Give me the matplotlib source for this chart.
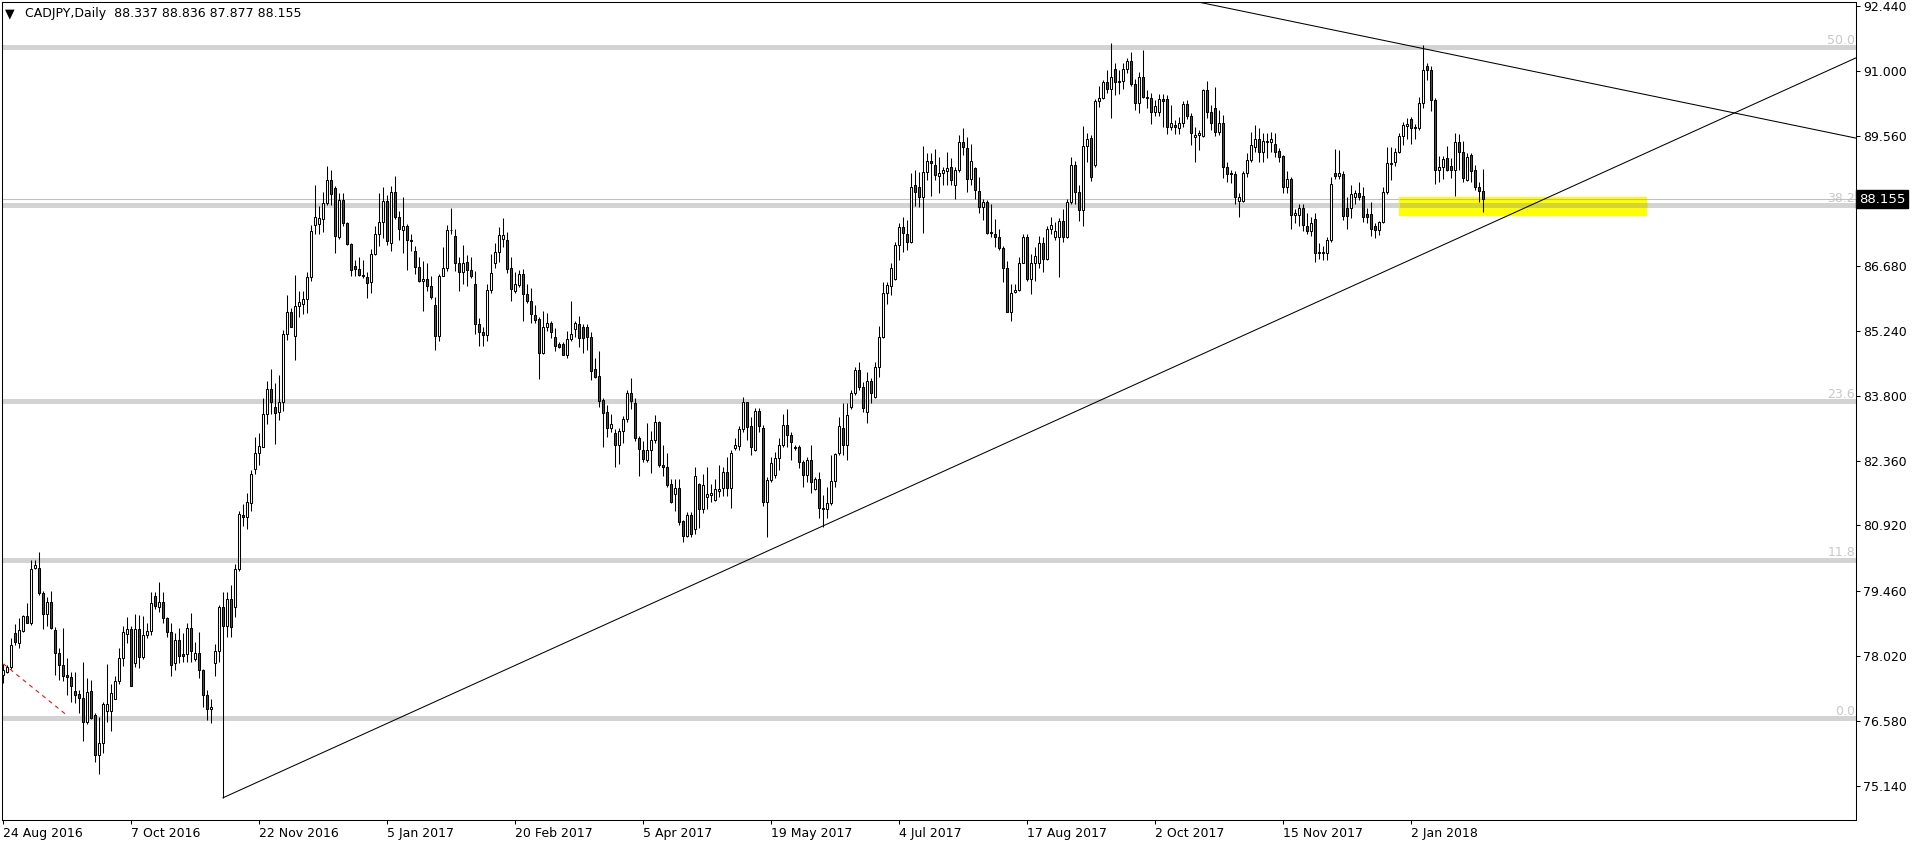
import matplotlib
matplotlib.use("Agg")
import matplotlib.pyplot as plt
from matplotlib.patches import Rectangle
from matplotlib.transforms import blended_transform_factory

# CADJPY daily candles, bar 0 = 24 Aug 2016 (weekdays only)
opens = [
    77.60, 77.68, 77.77, 78.53, 78.31, 78.57, 78.91, 78.76, 79.97, 79.97,
    79.42, 78.95, 79.22, 78.60, 78.08, 77.83, 77.60, 77.55, 77.24, 77.18,
    77.09, 76.55, 77.24, 76.71, 75.82, 76.09, 76.81, 76.81, 77.07, 77.46,
    77.97, 78.51, 78.62, 77.86, 78.62, 78.01, 78.48, 78.57, 79.36, 79.10,
    79.22, 78.86, 78.55, 77.88, 78.39, 78.06, 78.06, 78.64, 77.95, 78.08,
    77.71, 77.17, 76.84, 77.88, 78.14, 79.10, 78.70, 79.28, 79.10, 79.95,
    81.15, 81.10, 81.41, 82.18, 82.53, 82.67, 83.39, 83.95, 83.54, 83.44,
    83.65, 85.17, 85.66, 85.12, 85.78, 85.84, 85.95, 86.42, 87.59, 87.60,
    87.71, 88.08, 88.59, 88.41, 87.31, 88.13, 87.63, 87.17, 86.67, 86.60,
    86.48, 86.43, 86.31, 86.93, 87.38, 87.66, 88.11, 87.19, 88.31, 87.75,
    87.47, 87.57, 87.26, 87.01, 86.65, 86.34, 86.39, 86.24, 85.81, 85.12,
    86.45, 86.63, 87.47, 87.35, 86.73, 86.54, 86.77, 86.58, 86.28, 85.39,
    85.21, 85.14, 86.14, 86.75, 86.99, 87.27, 87.25, 86.62, 86.13, 86.25,
    86.49, 86.05, 85.90, 85.59, 85.49, 84.75, 85.31, 85.42, 85.09, 84.94,
    84.94, 84.71, 85.05, 85.27, 85.39, 85.31, 85.31, 85.11, 84.40, 84.23,
    83.70, 83.43, 83.09, 82.96, 82.70, 83.02, 83.27, 83.85, 83.63, 82.85,
    82.59, 82.37, 82.59, 82.81, 83.21, 82.26, 82.22, 81.83, 81.62, 81.74,
    81.02, 80.69, 81.15, 80.85, 81.84, 81.28, 81.56, 81.59, 81.48, 81.68,
    81.76, 82.11, 81.76, 82.63, 82.68, 83.05, 83.65, 83.13, 82.59, 83.46,
    83.09, 81.45, 81.93, 82.04, 82.41, 82.70, 83.15, 82.93, 82.67, 82.65,
    82.33, 82.04, 82.37, 81.73, 81.95, 81.28, 81.28, 81.41, 81.91, 82.52,
    83.09, 82.70, 83.55, 83.86, 84.37, 83.98, 83.44, 84.13, 83.76, 84.43,
    85.11, 86.08, 86.23, 86.38, 87.14, 87.53, 87.38, 87.21, 88.46, 88.43,
    88.21, 88.75, 89.01, 88.91, 88.68, 88.73, 88.79, 88.86, 88.47, 88.80,
    89.43, 89.28, 88.60, 88.84, 88.34, 87.99, 88.09, 87.42, 87.38, 87.31,
    87.07, 86.64, 85.66, 86.09, 86.14, 86.73, 87.31, 86.38, 86.75, 86.75,
    87.18, 86.84, 87.49, 87.32, 87.32, 87.67, 87.32, 88.10, 88.91, 88.32,
    87.92, 89.34, 89.51, 88.91, 90.33, 90.39, 90.75, 90.59, 91.04, 90.78,
    90.78, 91.04, 91.22, 90.72, 90.30, 90.86, 90.42, 90.39, 90.10, 90.10,
    90.37, 90.37, 89.76, 89.80, 89.74, 89.84, 90.27, 90.00, 89.53, 89.59,
    89.56, 90.58, 90.10, 90.17, 89.65, 89.84, 88.88, 88.73, 88.71, 88.12,
    88.12, 88.73, 89.02, 89.31, 89.48, 89.21, 89.43, 89.43, 89.39, 89.23,
    89.11, 88.42, 88.60, 87.80, 87.80, 87.97, 87.56, 87.44, 87.71, 86.97,
    86.97, 86.97, 87.24, 88.73, 88.68, 88.71, 87.95, 87.95, 88.21, 88.30,
    88.23, 87.83, 87.83, 87.56, 87.47, 87.64, 88.32, 88.93, 88.97, 89.21,
    89.56, 89.78, 89.93, 89.75, 89.73, 90.28, 91.11, 91.02, 90.35, 88.80,
    88.88, 89.07, 88.90, 88.80, 89.43, 89.20, 88.58, 89.14, 88.80, 88.42,
    88.337,
]
highs = [
    77.84, 77.83, 78.42, 78.74, 78.86, 78.93, 79.19, 80.15, 80.15, 80.32,
    79.47, 79.34, 79.47, 78.66, 78.20, 78.64, 77.97, 77.68, 77.66, 77.27,
    77.89, 77.53, 77.49, 76.77, 76.68, 77.00, 77.84, 77.40, 77.57, 78.20,
    78.68, 78.88, 78.68, 78.95, 78.93, 78.91, 78.75, 79.44, 79.44, 79.66,
    79.44, 78.88, 78.75, 78.54, 78.64, 78.53, 78.75, 78.97, 78.34, 78.55,
    77.73, 77.27, 77.07, 78.28, 79.16, 79.45, 79.45, 79.60, 80.06, 81.25,
    81.40, 81.65, 82.14, 82.88, 82.98, 83.74, 84.12, 84.38, 84.07, 84.26,
    85.26, 86.03, 85.75, 86.47, 86.12, 86.12, 86.54, 87.59, 88.47, 88.01,
    88.31, 88.90, 88.80, 88.45, 88.29, 88.29, 87.66, 87.19, 86.80, 86.87,
    86.80, 86.54, 87.05, 87.57, 88.29, 88.43, 88.25, 88.45, 88.67, 87.89,
    88.20, 87.61, 87.38, 87.12, 86.87, 86.79, 86.75, 86.45, 85.98, 86.49,
    87.10, 87.59, 87.96, 87.49, 86.87, 87.15, 86.91, 86.87, 86.56, 85.52,
    85.33, 86.28, 86.94, 87.18, 87.53, 87.73, 87.42, 86.87, 86.55, 86.58,
    86.60, 86.27, 86.18, 85.81, 85.54, 85.67, 85.64, 85.46, 85.29, 84.99,
    84.99, 85.23, 85.90, 85.45, 85.57, 85.38, 85.38, 85.22, 84.64, 84.79,
    83.74, 83.59, 83.39, 83.05, 83.07, 83.35, 83.92, 84.20, 83.74, 82.90,
    82.80, 83.20, 83.02, 83.37, 83.24, 82.70, 82.52, 81.94, 81.94, 81.94,
    81.04, 81.22, 81.22, 82.22, 81.87, 82.06, 82.21, 81.85, 81.94, 82.26,
    82.22, 82.44, 82.59, 82.85, 83.13, 83.76, 83.66, 83.33, 83.52, 83.52,
    83.15, 82.00, 82.44, 82.55, 82.85, 83.40, 83.50, 83.00, 82.70, 82.70,
    82.37, 82.44, 82.70, 82.00, 82.11, 81.59, 81.78, 82.48, 82.52, 83.33,
    83.63, 83.63, 83.92, 84.43, 84.55, 84.11, 84.33, 84.18, 84.55, 85.34,
    86.33, 86.33, 86.73, 87.21, 87.63, 87.75, 87.69, 88.73, 88.80, 88.76,
    89.33, 89.19, 89.19, 89.26, 89.10, 88.88, 89.21, 89.06, 88.88, 89.58,
    89.73, 89.54, 89.39, 88.88, 88.65, 88.17, 88.14, 88.05, 87.71, 87.49,
    87.12, 86.79, 86.27, 86.27, 86.87, 87.38, 87.38, 86.94, 87.10, 87.35,
    87.32, 87.55, 87.77, 87.66, 87.73, 87.94, 88.17, 89.10, 89.00, 88.47,
    89.78, 89.62, 89.58, 90.37, 90.66, 90.81, 91.01, 91.63, 91.17, 91.01,
    91.17, 91.29, 91.43, 90.82, 90.98, 91.46, 90.58, 90.50, 90.36, 90.49,
    90.49, 90.47, 90.24, 89.91, 89.97, 90.34, 90.36, 90.06, 89.76, 89.69,
    90.61, 90.78, 90.24, 90.65, 90.13, 90.02, 88.99, 88.80, 88.77, 88.29,
    88.77, 89.17, 89.65, 89.80, 89.73, 89.62, 89.62, 89.65, 89.62, 89.28,
    89.13, 88.77, 88.65, 87.93, 88.06, 88.05, 87.86, 87.77, 87.84, 87.18,
    87.12, 87.32, 88.65, 89.26, 89.25, 88.77, 88.21, 88.47, 88.37, 88.54,
    88.43, 87.95, 88.10, 87.62, 87.68, 88.43, 89.32, 89.31, 89.28, 89.62,
    89.87, 89.95, 89.97, 89.82, 90.43, 91.57, 91.17, 91.11, 90.39, 89.12,
    89.12, 89.34, 89.06, 89.63, 89.60, 89.45, 89.19, 89.17, 88.91, 88.54,
    88.836,
]
lows = [
    77.42, 77.64, 77.73, 78.27, 78.20, 78.56, 78.75, 78.71, 79.95, 79.38,
    78.62, 78.68, 78.62, 77.60, 77.49, 77.46, 77.15, 77.01, 76.98, 76.77,
    76.15, 76.52, 76.62, 75.68, 75.40, 75.87, 76.57, 76.35, 77.06, 77.40,
    77.80, 78.31, 77.35, 77.79, 77.75, 77.95, 78.43, 78.48, 79.06, 79.01,
    78.75, 78.44, 77.59, 77.71, 77.88, 77.90, 77.89, 77.89, 77.92, 77.53,
    76.90, 76.61, 76.53, 77.57, 77.90, 74.88, 78.45, 78.45, 78.90, 79.90,
    80.90, 80.85, 81.24, 82.07, 82.25, 82.67, 83.18, 83.39, 82.72, 83.25,
    83.46, 85.03, 85.31, 84.58, 85.54, 85.61, 85.63, 86.35, 87.38, 87.38,
    87.43, 88.03, 88.03, 86.96, 87.27, 87.57, 87.15, 86.45, 86.45, 86.45,
    86.40, 85.96, 86.08, 86.91, 87.12, 87.29, 87.15, 87.01, 87.71, 87.24,
    86.96, 86.59, 87.01, 86.49, 86.31, 85.67, 86.12, 85.95, 84.80, 85.00,
    86.45, 86.57, 87.38, 86.56, 86.12, 86.28, 86.22, 86.40, 85.16, 84.89,
    84.89, 85.00, 86.08, 86.64, 86.77, 87.09, 86.51, 85.90, 86.07, 86.20,
    85.46, 85.85, 85.42, 85.42, 84.17, 84.72, 85.24, 85.08, 84.79, 84.85,
    84.69, 84.64, 85.02, 85.09, 84.88, 84.75, 84.81, 84.15, 84.20, 83.55,
    82.65, 82.89, 83.00, 82.22, 82.28, 82.75, 83.22, 83.50, 82.80, 82.02,
    82.33, 82.33, 82.09, 82.75, 82.22, 82.02, 81.77, 81.41, 81.25, 80.93,
    80.56, 80.67, 80.67, 80.72, 80.86, 81.20, 81.28, 81.45, 81.47, 81.56,
    81.57, 81.57, 81.30, 82.59, 82.59, 83.00, 82.81, 82.48, 82.56, 83.00,
    81.34, 80.66, 81.89, 81.98, 82.15, 82.67, 82.67, 82.37, 82.59, 82.19,
    81.78, 81.89, 81.63, 81.70, 81.08, 80.89, 81.08, 81.37, 81.78, 82.48,
    82.48, 82.37, 83.50, 83.81, 83.92, 83.44, 83.20, 83.63, 83.74, 84.22,
    85.07, 85.84, 86.03, 86.36, 86.81, 86.99, 87.03, 87.18, 88.00, 87.99,
    87.41, 88.58, 88.23, 88.58, 88.29, 88.47, 88.47, 88.47, 88.17, 88.76,
    89.13, 88.32, 88.47, 88.17, 87.86, 87.69, 87.38, 87.32, 87.10, 87.03,
    86.33, 85.66, 85.46, 86.07, 86.12, 86.73, 86.35, 86.05, 86.35, 86.64,
    86.55, 86.81, 87.38, 87.25, 86.44, 87.20, 87.30, 88.06, 88.06, 87.68,
    87.55, 88.99, 88.57, 88.88, 90.21, 90.37, 90.50, 89.96, 90.47, 90.49,
    90.61, 90.95, 90.66, 90.13, 90.06, 90.39, 90.17, 89.82, 89.99, 90.00,
    89.76, 89.60, 89.69, 89.60, 89.60, 89.76, 89.93, 89.36, 88.99, 89.25,
    89.54, 89.95, 89.69, 89.56, 89.58, 88.62, 88.54, 88.51, 88.05, 87.77,
    88.10, 88.65, 88.99, 89.21, 88.99, 88.99, 89.06, 89.21, 89.10, 88.99,
    88.29, 88.29, 87.49, 87.62, 87.55, 87.44, 87.38, 87.34, 86.77, 86.84,
    86.81, 86.81, 87.21, 88.60, 88.60, 87.69, 87.49, 87.73, 88.06, 88.14,
    87.66, 87.62, 87.34, 87.29, 87.36, 87.62, 88.28, 88.58, 88.90, 89.17,
    89.36, 89.50, 89.39, 89.50, 89.69, 90.17, 90.80, 90.12, 88.49, 88.54,
    88.60, 88.77, 88.62, 88.23, 88.80, 88.54, 88.56, 88.54, 88.36, 88.10,
    87.877,
]
closes = [
    77.71, 77.79, 78.27, 78.33, 78.60, 78.91, 78.76, 79.95, 80.04, 79.42,
    78.95, 79.22, 78.65, 78.08, 77.83, 77.59, 77.55, 77.37, 77.17, 77.09,
    76.55, 77.23, 76.64, 75.82, 76.09, 76.96, 76.96, 77.20, 77.47, 77.97,
    78.55, 78.62, 77.36, 78.62, 78.01, 78.48, 78.57, 79.19, 79.13, 79.22,
    78.86, 78.55, 77.83, 78.39, 78.03, 78.03, 78.64, 78.14, 78.08, 77.71,
    77.17, 76.84, 76.89, 78.14, 79.10, 78.70, 79.28, 78.66, 79.95, 81.18,
    81.10, 81.43, 82.07, 82.53, 82.69, 83.39, 83.95, 83.65, 83.42, 83.65,
    85.17, 85.66, 85.33, 85.78, 85.87, 85.95, 86.42, 87.45, 87.75, 87.73,
    88.08, 88.59, 88.27, 87.33, 88.13, 87.63, 87.17, 86.59, 86.60, 86.48,
    86.45, 86.30, 86.93, 87.38, 87.66, 88.11, 87.22, 88.31, 87.75, 87.49,
    87.57, 87.24, 87.22, 86.65, 86.34, 86.39, 86.24, 85.98, 85.12, 86.45,
    86.63, 87.47, 87.48, 86.73, 86.54, 86.75, 86.59, 86.45, 85.39, 85.21,
    85.14, 86.14, 86.51, 86.99, 87.36, 87.36, 86.60, 86.16, 86.27, 86.49,
    86.05, 85.90, 85.60, 85.48, 84.75, 85.33, 85.42, 85.20, 84.90, 84.88,
    84.71, 85.05, 85.16, 85.40, 85.08, 85.08, 85.09, 84.35, 84.22, 83.69,
    83.42, 83.09, 83.18, 82.70, 83.02, 83.27, 83.85, 83.69, 82.85, 82.61,
    82.39, 82.59, 82.81, 83.21, 82.25, 82.22, 81.82, 81.45, 81.74, 81.00,
    80.69, 81.15, 80.72, 82.02, 81.28, 81.82, 81.62, 81.65, 81.73, 81.73,
    82.11, 81.76, 82.52, 82.70, 83.05, 83.66, 83.11, 82.65, 83.46, 83.13,
    81.45, 81.93, 82.30, 82.41, 82.70, 83.15, 82.93, 82.76, 82.64, 82.33,
    82.04, 82.38, 81.89, 81.96, 81.30, 81.30, 81.41, 81.90, 82.50, 83.13,
    82.70, 83.38, 83.86, 84.37, 84.00, 83.52, 84.13, 83.85, 84.43, 85.11,
    86.08, 86.25, 86.64, 87.15, 87.53, 87.40, 87.21, 88.43, 88.32, 88.21,
    88.75, 89.01, 88.95, 88.69, 88.73, 88.80, 88.85, 88.58, 88.80, 89.43,
    89.31, 88.60, 89.00, 88.36, 87.99, 88.09, 87.40, 87.40, 87.31, 87.07,
    86.64, 85.66, 86.07, 86.14, 86.73, 87.31, 86.38, 86.73, 86.89, 87.18,
    86.84, 87.49, 87.58, 87.45, 87.67, 87.32, 88.10, 88.91, 88.32, 87.92,
    89.34, 89.48, 88.64, 90.33, 90.39, 90.75, 90.59, 90.86, 90.75, 90.75,
    91.04, 91.22, 90.72, 90.30, 90.86, 90.42, 90.39, 90.10, 90.22, 90.37,
    90.34, 89.76, 89.84, 89.75, 89.84, 90.27, 89.99, 89.62, 89.59, 89.62,
    90.58, 90.10, 89.85, 89.65, 89.84, 88.88, 88.71, 88.71, 88.20, 88.20,
    88.73, 89.02, 89.36, 89.48, 89.21, 89.45, 89.45, 89.48, 89.21, 89.10,
    88.42, 88.60, 87.80, 87.84, 87.97, 87.58, 87.44, 87.62, 86.97, 86.99,
    86.99, 87.24, 88.49, 88.68, 88.73, 87.79, 87.79, 88.27, 88.30, 88.21,
    87.77, 87.75, 87.49, 87.47, 87.64, 88.32, 88.95, 88.96, 89.21, 89.56,
    89.80, 89.82, 89.73, 89.73, 90.28, 91.02, 91.02, 90.35, 88.80, 88.88,
    89.04, 88.80, 88.80, 89.43, 89.20, 88.62, 89.10, 88.79, 88.42, 88.34,
    88.155,
]

# x axis: one label every 32 bars
date_labels = ["24 Aug 2016", "7 Oct 2016", "22 Nov 2016", "5 Jan 2017",
               "20 Feb 2017", "5 Apr 2017", "19 May 2017", "4 Jul 2017",
               "17 Aug 2017", "2 Oct 2017", "15 Nov 2017", "2 Jan 2018"]
date_ticks = [0, 32, 64, 96, 128, 160, 192, 224, 256, 288, 320, 352]

price_labels = ["92.440", "91.000", "89.560", "86.680", "85.240", "83.800",
                "82.360", "80.920", "79.460", "78.020", "76.580", "75.140"]
price_ticks = [92.44, 91.00, 89.56, 86.68, 85.24, 83.80,
               82.36, 80.92, 79.46, 78.02, 76.58, 75.14]

# fibonacci retracement drawn on the chart
fib_levels = [0.0, 11.8, 23.6, 38.2, 50.0]
fib_low = 76.65
fib_high = 106.41

last_price = 88.155

# drawn objects (bar index, price)
up_line_x = [55, 463.25]
up_line_y = [74.88, 91.29]
down_line_x = [296, 463.25]
down_line_y = [92.58, 89.51]
red_line_x = [0.1, 15.7]
red_line_y = [77.85, 76.73]
zone_x = [349.0, 411.1]
zone_y = [87.78, 88.20]

n = len(closes)
assert len(opens) == len(highs) == len(lows) == n
x = list(range(n))

W, H = 1916, 847
fig = plt.figure(figsize=(W / 100, H / 100), dpi=100)
ax = fig.add_axes([2 / W, 27 / H, 1854 / W, 818 / H])
ax.set_xlim(-0.25, 463.25)
ax.set_ylim(74.387, 92.529)

# fibo levels
for lvl in fib_levels:
    p = fib_low + (fib_high - fib_low) * lvl / 100
    ax.axhline(p, color="#d3d3d3", lw=3.6, zorder=1)
    ax.text(463.0, p + 0.075, f"{lvl:.1f}", ha="right", va="baseline",
            color="#c8c8c8", fontsize=9, zorder=1)

ax.axhline(last_price, color="#c0c0c0", lw=0.75, zorder=1.5)

# yellow support zone
ax.add_patch(Rectangle((zone_x[0], zone_y[0]), zone_x[1] - zone_x[0],
                       zone_y[1] - zone_y[0], facecolor="#ffff00",
                       edgecolor="none", zorder=2))
p382 = fib_low + (fib_high - fib_low) * 38.2 / 100
ax.hlines(p382, zone_x[0], zone_x[1], color="#d4d43a", lw=3.6, zorder=2.5)
ax.hlines(last_price, zone_x[0], zone_x[1], color="#c8c850", lw=0.75, zorder=2.6)

# candles
ax.vlines(x, lows, highs, color="black", lw=0.75, zorder=3)
bottoms = [min(o, c) for o, c in zip(opens, closes)]
heights = [abs(c - o) for o, c in zip(opens, closes)]
faces = ["white" if c >= o else "#4d4d4d" for o, c in zip(opens, closes)]
ax.bar(x, heights, width=0.55, bottom=bottoms, color=faces,
       edgecolor="black", linewidth=0.75, zorder=4)

# trend lines
ax.plot(up_line_x, up_line_y, color="black", lw=0.75, zorder=5)
ax.plot(down_line_x, down_line_y, color="black", lw=0.75, zorder=5)
ax.plot(red_line_x, red_line_y, color="red", lw=0.75, ls=(0, (4, 4)), zorder=5)

# axes styling
for s in ax.spines.values():
    s.set_linewidth(0.75)
    s.set_color("black")
ax.yaxis.tick_right()
ax.set_yticks(price_ticks)
ax.set_yticklabels(price_labels)
ax.set_xticks(date_ticks)
ax.set_xticklabels(date_labels)
for lbl in ax.get_xticklabels():
    lbl.set_ha("left")
ax.tick_params(axis="both", direction="out", length=3, width=0.75,
               labelsize=9, pad=2, colors="black")

# current price marker
tr = blended_transform_factory(ax.transAxes, ax.transData)
ax.text(1.0 + 3 / 1854, last_price, "88.155", transform=tr, ha="left",
        va="center", color="white", fontsize=9.5, clip_on=False, zorder=10,
        bbox=dict(boxstyle="square,pad=0.2", facecolor="black", edgecolor="black"))

# header
fig.text(5 / W, 1 - 14 / H, "\u25bc", fontsize=9, va="center", ha="left")
fig.text(25 / W, 1 - 14 / H, "CADJPY,Daily  88.337 88.836 87.877 88.155",
         fontsize=9, va="center", ha="left")

fig.savefig("out.png", dpi=100)
